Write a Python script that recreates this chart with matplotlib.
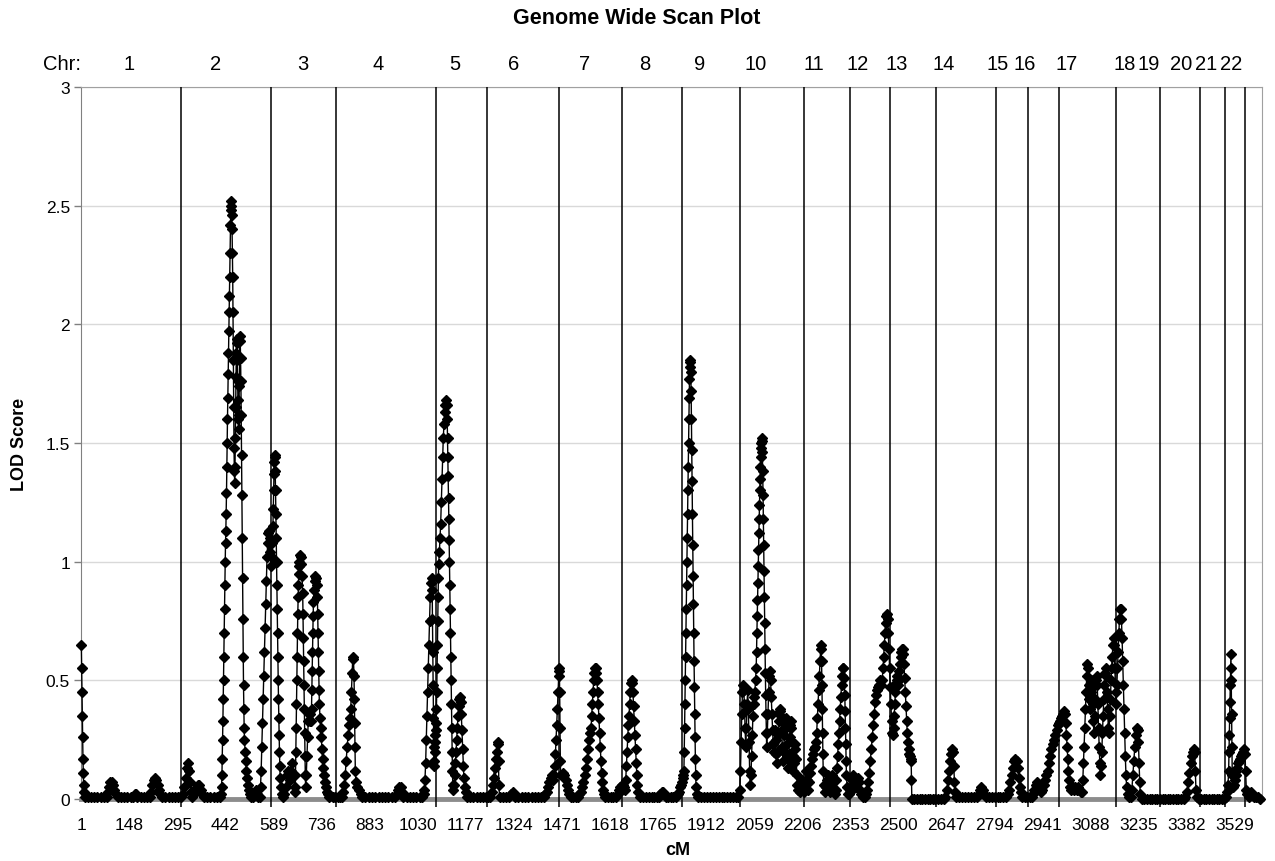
import matplotlib
matplotlib.use("Agg")
from matplotlib import pyplot as plt

plt.rcParams['font.family'] = ['Liberation Sans', 'DejaVu Sans']

# (cM, LOD) pairs, one list per chromosome
chr1 = [(1, .65), (2, .55), (3, .45), (4, .35), (5, .26), (6, .17), (7, .11), (8, .06), (9, .03), (11, .01),
        (20, .01), (30, .01), (40, .01), (50, .01), (60, .01), (70, .01), (78, .01), (82, .03), (86, .05),
        (90, .07), (94, .07), (98, .06), (102, .04), (106, .02), (112, .01), (122, .01), (132, .01), (142, .01),
        (152, .01), (160, .01), (164, .02), (168, .02), (172, .01), (182, .01), (192, .01), (202, .01), (210, .01),
        (214, .03), (218, .06), (222, .08), (226, .09), (230, .08), (234, .06), (238, .04), (242, .02), (248, .01),
        (258, .01), (268, .01), (278, .01), (288, .01), (298, .01)]
chr2 = [(306, .01), (312, .02), (316, .05), (320, .09), (324, .13), (327, .15), (330, .12), (333, .07), (336, .03),
        (340, .01), (346, .02), (350, .03), (354, .05), (358, .06), (362, .06), (366, .04), (370, .02), (376, .01),
        (386, .01), (396, .01), (406, .01), (416, .01), (424, .01), (428, .02), (430, .05), (431, .1), (432, .17),
        (433, .25), (434, .33), (435, .42), (436, .5), (437, .6), (438, .7), (439, .8), (440, .9), (441, 1.0),
        (442, 1.08), (443, 1.13), (444, 1.2), (445, 1.29), (446, 1.4), (447, 1.5), (448, 1.6), (449, 1.69),
        (450, 1.79), (451, 1.88), (452, 1.97), (453, 2.05), (454, 2.12), (455, 2.2), (456, 2.3), (457, 2.42),
        (458, 2.48), (459, 2.52), (460, 2.5), (461, 2.46), (462, 2.4), (463, 2.3), (464, 2.2), (465, 2.05),
        (466, 1.85), (467, 1.65), (468, 1.48), (469, 1.38), (470, 1.33), (471, 1.4), (472, 1.52), (473, 1.65),
        (474, 1.78), (475, 1.88), (476, 1.94), (477, 1.92), (478, 1.85), (479, 1.76), (480, 1.68), (481, 1.6),
        (482, 1.56), (483, 1.62), (484, 1.74), (485, 1.86), (486, 1.95), (487, 1.93), (488, 1.86), (489, 1.76),
        (490, 1.62), (491, 1.45), (492, 1.28), (493, 1.1), (494, .93), (495, .76), (496, .6), (497, .48),
        (498, .38), (499, .3), (500, .25), (502, .2), (504, .16), (506, .12), (508, .09), (510, .06), (513, .04),
        (516, .02), (520, .01), (526, .01), (532, .02), (536, .04), (539, .02), (542, .01), (546, .01), (549, .05),
        (551, .12), (553, .22), (555, .32), (557, .42), (559, .52), (561, .62), (563, .72), (565, .82), (567, .92),
        (569, 1.02), (571, 1.08), (573, 1.12), (575, 1.13), (577, 1.1), (579, 1.04), (581, .98)]
chr3 = [(583, 1.02), (585, 1.08), (587, 1.15), (588, 1.22), (589, 1.3), (590, 1.37), (591, 1.42), (592, 1.45),
        (593, 1.44), (594, 1.38), (595, 1.3), (596, 1.2), (597, 1.1), (598, 1.0), (599, .9), (600, .8), (601, .7),
        (602, .6), (603, .5), (604, .42), (605, .34), (606, .27), (607, .2), (608, .14), (609, .09), (611, .05),
        (614, .02), (618, .01), (622, .02), (626, .05), (630, .1), (634, .12), (638, .08), (642, .12), (646, .15),
        (650, .1), (653, .05), (655, .03), (656, .1), (657, .2), (658, .3), (659, .4), (660, .5), (661, .6),
        (662, .7), (663, .78), (664, .85), (665, .9), (666, .95), (667, .98), (668, 1.0), (670, 1.03), (672, 1.02),
        (674, .99), (676, .94), (678, .87), (679, .78), (680, .68), (681, .58), (682, .48), (683, .38), (684, .28),
        (685, .18), (686, .1), (687, .05), (689, .1), (691, .18), (693, .26), (695, .33), (697, .36), (699, .33),
        (701, .36), (703, .33), (705, .38), (706, .46), (707, .54), (708, .62), (709, .7), (710, .77), (711, .83),
        (713, .88), (715, .92), (717, .94), (719, .93), (721, .9), (723, .85), (724, .78), (725, .7), (726, .62),
        (727, .54), (728, .46), (729, .4), (731, .34), (733, .3), (735, .26), (737, .21), (739, .17), (741, .13),
        (743, .1), (745, .07), (748, .05), (751, .03), (755, .02), (760, .01), (770, .01), (778, .01)]
chr4 = [(786, .01), (792, .01), (798, .01), (802, .03), (805, .06), (808, .1), (811, .16), (814, .22), (817, .27),
        (820, .31), (823, .34), (825, .38), (827, .45), (829, .53), (831, .59), (833, .6), (835, .52), (836, .42),
        (837, .32), (838, .22), (839, .12), (841, .07), (845, .05), (850, .04), (855, .02), (860, .01), (870, .01),
        (880, .01), (890, .01), (900, .01), (910, .01), (920, .01), (930, .01), (940, .01), (950, .01), (960, .01),
        (966, .02), (970, .04), (974, .05), (978, .05), (982, .03), (986, .01), (996, .01), (1006, .01),
        (1016, .01), (1026, .01), (1036, .01), (1044, .01), (1048, .02), (1050, .04), (1052, .08), (1054, .15),
        (1056, .25), (1058, .35), (1060, .45), (1062, .55), (1064, .65), (1066, .75), (1068, .85), (1070, .91),
        (1072, .93), (1074, .88), (1075, .76), (1076, .62), (1077, .48), (1078, .34), (1079, .22), (1080, .14),
        (1081, .16), (1082, .2), (1083, .24), (1084, .27), (1085, .29)]
chr5 = [(1086, .32), (1087, .38), (1088, .45), (1089, .55), (1090, .65), (1091, .75), (1092, .85), (1093, .93),
        (1094, .99), (1096, 1.04), (1098, 1.1), (1100, 1.16), (1102, 1.25), (1104, 1.35), (1106, 1.44),
        (1108, 1.52), (1110, 1.58), (1112, 1.63), (1114, 1.66), (1116, 1.68), (1118, 1.66), (1120, 1.6),
        (1121, 1.52), (1122, 1.44), (1123, 1.36), (1124, 1.27), (1125, 1.18), (1126, 1.09), (1127, 1.0),
        (1128, .9), (1129, .8), (1130, .7), (1131, .6), (1132, .5), (1133, .4), (1134, .3), (1135, .2), (1136, .12),
        (1137, .06), (1139, .04), (1141, .06), (1143, .1), (1145, .15), (1147, .2), (1149, .25), (1151, .3),
        (1153, .35), (1155, .39), (1157, .42), (1159, .43), (1161, .41), (1163, .36), (1165, .29), (1167, .21),
        (1169, .14), (1171, .09), (1173, .05), (1176, .03), (1180, .01), (1190, .01), (1200, .01), (1210, .01),
        (1220, .01), (1230, .01), (1238, .01)]
chr6 = [(1246, .01), (1252, .01), (1256, .03), (1259, .06), (1262, .09), (1265, .13), (1268, .17), (1271, .2),
        (1274, .23), (1276, .24), (1277, .16), (1278, .06), (1280, .01), (1290, .01), (1300, .01), (1310, .01),
        (1316, .02), (1320, .03), (1324, .02), (1328, .01), (1338, .01), (1348, .01), (1358, .01), (1368, .01),
        (1378, .01), (1388, .01), (1398, .01), (1408, .01), (1416, .01), (1420, .02), (1424, .03), (1428, .05),
        (1432, .07), (1436, .09), (1440, .1), (1443, .08), (1446, .1), (1449, .14), (1451, .19), (1453, .25),
        (1455, .31), (1457, .38), (1459, .45), (1461, .52)]
chr7 = [(1462, .55), (1463, .54), (1464, .45), (1465, .3), (1466, .16), (1467, .1), (1470, .1), (1474, .11),
        (1478, .1), (1482, .08), (1486, .06), (1490, .04), (1494, .02), (1498, .01), (1506, .01), (1514, .01),
        (1520, .01), (1524, .02), (1528, .03), (1532, .05), (1536, .07), (1540, .1), (1544, .13), (1548, .17),
        (1551, .21), (1554, .25), (1557, .28), (1560, .3), (1562, .35), (1564, .4), (1566, .45), (1568, .5),
        (1570, .53), (1572, .55), (1574, .55), (1576, .53), (1578, .5), (1580, .45), (1582, .4), (1584, .34),
        (1586, .28), (1588, .22), (1590, .16), (1592, .11), (1594, .07), (1596, .04), (1599, .02), (1603, .01),
        (1612, .01), (1620, .01), (1628, .01), (1636, .01), (1642, .02), (1646, .04), (1650, .05)]
chr8 = [(1654, .06), (1658, .06), (1661, .05), (1664, .04), (1666, .08), (1668, .14), (1670, .2), (1672, .26),
        (1674, .31), (1676, .35), (1678, .4), (1680, .45), (1682, .49), (1684, .5), (1686, .49), (1688, .45),
        (1690, .39), (1692, .33), (1694, .27), (1696, .21), (1698, .15), (1700, .1), (1702, .06), (1705, .03),
        (1709, .01), (1718, .01), (1727, .01), (1736, .01), (1745, .01), (1754, .01), (1762, .01), (1768, .01),
        (1772, .02), (1776, .03), (1780, .03), (1784, .02), (1788, .01), (1796, .01), (1804, .01), (1812, .01),
        (1820, .01), (1826, .02), (1830, .03), (1833, .05), (1836, .06)]
chr9 = [(1838, .07), (1840, .09), (1842, .1), (1844, .12), (1845, .2), (1846, .3), (1847, .4), (1848, .5),
        (1849, .6), (1850, .7), (1851, .8), (1852, .9), (1853, 1.0), (1854, 1.1), (1855, 1.2), (1856, 1.3),
        (1857, 1.4), (1858, 1.5), (1859, 1.6), (1860, 1.69), (1861, 1.77), (1862, 1.82), (1863, 1.85),
        (1864, 1.84), (1865, 1.8), (1866, 1.72), (1867, 1.6), (1868, 1.47), (1869, 1.34), (1870, 1.2),
        (1871, 1.07), (1872, .94), (1873, .82), (1874, .7), (1875, .58), (1876, .47), (1877, .36), (1878, .26),
        (1879, .17), (1880, .1), (1881, .05), (1883, .02), (1887, .01), (1896, .01), (1905, .01), (1914, .01),
        (1923, .01), (1932, .01), (1941, .01), (1950, .01), (1959, .01), (1968, .01), (1977, .01), (1986, .01),
        (1995, .01), (2004, .01), (2010, .01)]
chr10 = [(2015, .04), (2017, .12), (2019, .24), (2021, .36), (2023, .45), (2025, .48), (2027, .46), (2029, .4),
         (2031, .3), (2033, .22), (2035, .3), (2037, .4), (2039, .46), (2041, .38), (2043, .24), (2045, .12),
         (2047, .06), (2049, .1), (2051, .18), (2053, .27), (2055, .35), (2057, .4), (2059, .43), (2061, .45),
         (2063, .5), (2065, .55), (2066, .62), (2067, .7), (2068, .77), (2069, .84), (2070, .91), (2071, .98),
         (2072, 1.05), (2073, 1.12), (2074, 1.18), (2075, 1.24), (2076, 1.3), (2077, 1.35), (2078, 1.4),
         (2079, 1.44), (2080, 1.48), (2081, 1.5), (2082, 1.52), (2083, 1.51), (2084, 1.46), (2085, 1.38),
         (2086, 1.28), (2087, 1.18), (2088, 1.07), (2089, .96), (2090, .85), (2091, .74), (2092, .63), (2093, .53),
         (2094, .44), (2095, .36), (2096, .28), (2097, .22), (2099, .28), (2101, .36), (2103, .45), (2105, .52),
         (2107, .54), (2109, .5), (2111, .43), (2113, .36), (2115, .29), (2117, .23), (2119, .2), (2121, .24),
         (2123, .29), (2125, .25), (2127, .19), (2129, .15), (2131, .2), (2133, .27), (2135, .33), (2137, .37),
         (2139, .38), (2141, .35), (2143, .29), (2145, .22), (2147, .16), (2149, .2), (2151, .27), (2153, .32),
         (2155, .34), (2157, .3), (2159, .23), (2161, .17), (2163, .13), (2165, .19), (2167, .26), (2169, .31),
         (2171, .33), (2173, .3), (2175, .24), (2177, .18), (2179, .12), (2181, .15), (2183, .21), (2185, .23),
         (2187, .17), (2189, .1), (2191, .06), (2194, .04), (2198, .03), (2202, .05), (2205, .08), (2208, .05)]
chr11 = [(2211, .03), (2214, .07), (2217, .12), (2220, .08), (2223, .04), (2226, .07), (2229, .11), (2232, .14),
         (2235, .17), (2238, .19), (2241, .21), (2244, .22), (2247, .24), (2250, .28), (2252, .34), (2254, .4),
         (2256, .46), (2258, .52), (2260, .58), (2262, .63), (2264, .65), (2265, .58), (2266, .48), (2267, .38),
         (2268, .28), (2269, .19), (2270, .12), (2272, .06), (2275, .03), (2278, .05), (2281, .08), (2284, .1),
         (2287, .07), (2290, .03), (2293, .06), (2296, .1), (2299, .08), (2302, .04), (2305, .02), (2308, .04),
         (2310, .08), (2312, .13), (2314, .18), (2316, .23), (2318, .28), (2320, .33), (2322, .38), (2324, .43),
         (2326, .48), (2328, .52), (2330, .55), (2332, .55), (2334, .51), (2336, .44), (2337, .37), (2338, .3),
         (2339, .23), (2340, .16), (2341, .1), (2343, .05), (2346, .02), (2350, .02)]
chr12 = [(2353, .03), (2356, .05), (2359, .08), (2362, .1), (2365, .09), (2368, .06), (2371, .05), (2374, .07),
         (2377, .09), (2380, .07), (2383, .04), (2387, .02), (2392, .01), (2398, .01), (2402, .02), (2405, .04),
         (2408, .07), (2411, .11), (2414, .16), (2417, .21), (2420, .26), (2423, .31), (2426, .36), (2429, .41),
         (2432, .44), (2435, .46), (2438, .47), (2441, .48), (2444, .5), (2447, .48), (2450, .5), (2453, .55),
         (2455, .6), (2457, .65), (2459, .7), (2461, .74), (2463, .77), (2465, .78), (2467, .76), (2469, .7),
         (2471, .63), (2473, .55)]
chr13 = [(2475, .47), (2477, .4), (2479, .33), (2481, .28), (2483, .27), (2485, .3), (2487, .35), (2489, .4),
         (2491, .45), (2493, .49), (2495, .52), (2497, .5), (2499, .48), (2501, .5), (2503, .54), (2505, .57),
         (2507, .6), (2509, .62), (2511, .63), (2513, .63), (2515, .61), (2517, .57), (2519, .51), (2521, .45),
         (2523, .39), (2525, .33), (2527, .28), (2529, .24), (2531, .21), (2533, .19), (2535, .18), (2537, .17),
         (2539, .16), (2540, .08), (2541, 0), (2549, 0), (2557, 0), (2565, 0), (2573, 0), (2581, 0), (2589, 0),
         (2597, 0), (2605, 0), (2612, 0)]
chr14 = [(2620, 0), (2630, 0), (2638, 0), (2644, .01), (2648, .04), (2652, .08), (2655, .12), (2658, .16),
         (2661, .19), (2664, .21), (2667, .2), (2669, .14), (2671, .07), (2673, .03), (2677, .01), (2686, .01),
         (2695, .01), (2704, .01), (2713, .01), (2722, .01), (2731, .01), (2740, .01), (2746, .02), (2750, .04),
         (2754, .05), (2758, .04), (2762, .02), (2768, .01), (2777, .01), (2786, .01), (2795, .01)]
chr15 = [(2804, .01), (2812, .01), (2820, .01), (2828, .01), (2834, .02), (2838, .04), (2842, .07), (2846, .1),
         (2850, .13), (2854, .16), (2858, .17), (2862, .16), (2865, .13), (2868, .09), (2871, .05), (2874, .03),
         (2878, .01), (2886, .01), (2894, .01)]
chr16 = [(2902, .01), (2908, .01), (2912, .02), (2916, .04), (2920, .06), (2924, .07), (2928, .06), (2932, .04),
         (2936, .03), (2940, .04), (2944, .06), (2948, .08), (2952, .1), (2956, .12), (2960, .15), (2964, .18),
         (2968, .21), (2972, .23), (2976, .25), (2980, .27), (2984, .29), (2988, .31)]
chr17 = [(2992, .32), (2995, .33), (2998, .34), (3001, .35), (3004, .36), (3007, .37), (3010, .36), (3012, .32),
         (3014, .27), (3016, .22), (3018, .17), (3020, .12), (3022, .08), (3025, .05), (3029, .04), (3033, .05),
         (3037, .04), (3041, .05), (3045, .04), (3049, .05), (3053, .04), (3057, .03), (3061, .03), (3064, .08),
         (3066, .15), (3068, .22), (3070, .3), (3072, .38), (3074, .45), (3076, .52), (3078, .57), (3080, .55),
         (3082, .48), (3084, .42), (3086, .38), (3088, .45), (3090, .5), (3092, .47), (3094, .4), (3096, .33),
         (3098, .28), (3100, .35), (3102, .42), (3104, .5), (3106, .52), (3108, .48), (3110, .4), (3112, .3),
         (3114, .22), (3116, .15), (3118, .1), (3120, .14), (3122, .2), (3124, .28), (3126, .35), (3128, .42),
         (3130, .48), (3132, .53), (3134, .55), (3136, .52), (3138, .45), (3140, .38), (3142, .3), (3144, .28),
         (3146, .35), (3148, .42), (3150, .5), (3152, .55), (3154, .6), (3156, .65), (3158, .68), (3160, .65),
         (3162, .55), (3164, .45)]
chr18 = [(3166, .4), (3168, .48), (3170, .55), (3172, .62), (3174, .7), (3176, .76), (3178, .8), (3180, .8),
         (3182, .76), (3184, .68), (3186, .58), (3188, .48), (3190, .38), (3192, .28), (3194, .18), (3196, .1),
         (3198, .05), (3201, .02), (3205, .01), (3210, .01), (3214, .04), (3217, .1), (3220, .16), (3223, .22),
         (3226, .27), (3229, .3), (3232, .29), (3234, .24), (3236, .15), (3238, .07), (3240, .02), (3244, 0),
         (3252, 0), (3260, 0), (3268, 0), (3276, 0), (3284, 0), (3292, 0)]
chr19 = [(3300, 0), (3308, 0), (3316, 0), (3324, 0), (3332, 0), (3340, 0), (3348, 0), (3356, 0), (3364, 0),
         (3372, 0), (3378, .01), (3382, .03), (3386, .07), (3390, .11), (3394, .15), (3398, .18), (3401, .2),
         (3404, .21), (3406, .2), (3408, .12), (3410, .04), (3413, .01), (3418, 0)]
chr20 = [(3426, 0), (3434, 0), (3442, 0), (3450, 0), (3458, 0), (3466, 0), (3474, 0), (3482, 0), (3490, 0),
         (3496, 0)]
chr21 = [(3502, .01), (3506, .03), (3508, .06), (3510, .12), (3511, .2), (3512, .27), (3513, .34), (3514, .41),
         (3515, .48), (3516, .55), (3517, .61), (3518, .5), (3519, .36), (3520, .22), (3521, .1), (3522, .05),
         (3525, .06), (3528, .08), (3531, .1), (3534, .12), (3537, .13), (3540, .15), (3543, .16), (3546, .17),
         (3549, .18), (3552, .19), (3555, .2), (3558, .21), (3560, .19)]
chr22 = [(3562, .12), (3564, .04), (3567, .02), (3571, .01), (3577, .03), (3582, .02), (3588, .01), (3594, .01),
         (3600, .01), (3606, 0)]

scan = [chr1, chr2, chr3, chr4, chr5, chr6, chr7, chr8, chr9, chr10, chr11,
        chr12, chr13, chr14, chr15, chr16, chr17, chr18, chr19, chr20, chr21, chr22]

# chromosome divider lines (cM)
boundaries = [306, 581, 780, 1086, 1242, 1462, 1654, 1838, 2015, 2211, 2352,
              2474, 2615, 2798, 2896, 2991, 3165, 3300, 3422, 3498, 3561]
chr_names = ["1", "2", "3", "4", "5", "6", "7", "8", "9", "10", "11",
             "12", "13", "14", "15", "16", "17", "18", "19", "20", "21", "22"]
chr_label_cm = [147, 413, 679, 908, 1144, 1324, 1541, 1725, 1893, 2064, 2242,
                2376, 2495, 2639, 2804, 2887, 3015, 3193, 3266, 3364, 3440, 3517]
tick_cm = [1, 148, 295, 442, 589, 736, 883, 1030, 1177, 1324, 1471, 1618, 1765,
           1912, 2059, 2206, 2353, 2500, 2647, 2794, 2941, 3088, 3235, 3382, 3529]
lod_ticks = [0, 0.5, 1, 1.5, 2, 2.5, 3]
lod_labels = ["0", "0.5", "1", "1.5", "2", "2.5", "3"]

cm = [p[0] for c in scan for p in c]
lod = [p[1] for c in scan for p in c]

fig = plt.figure(figsize=(12.75, 8.62), dpi=100)
ax = fig.add_axes([81 / 1275, 62 / 862, 1181 / 1275, 712 / 862])

ax.plot(cm, lod, color="black", lw=1.0, marker="D", ms=5.2,
        mfc="black", mec="black", zorder=4, clip_on=False)
ax.vlines(boundaries, -0.034, 3, colors="black", lw=1.1, zorder=3, clip_on=False)

ax.set_xlim(0, 3612)
ax.set_ylim(0, 3)
ax.set_xticks(tick_cm)
ax.set_xticklabels([str(t) for t in tick_cm])
ax.set_yticks(lod_ticks)
ax.set_yticklabels(lod_labels)
ax.tick_params(axis="x", length=0, pad=13, labelsize=12.5)
ax.tick_params(axis="y", length=5, width=1, color="#808080", pad=3, labelsize=12.5)
ax.yaxis.grid(True, color="#d9d9d9", lw=1)
ax.set_axisbelow(True)

ax.spines["bottom"].set_color("#8c8c8c")
ax.spines["bottom"].set_linewidth(3.5)
ax.spines["left"].set_color("#808080")
ax.spines["top"].set_color("#a0a0a0")
ax.spines["right"].set_color("#a0a0a0")

ax.text(-58, 3.1, "Chr:", fontsize=14.5, ha="center", va="center", clip_on=False)
for name, x in zip(chr_names, chr_label_cm):
    ax.text(x, 3.1, name, fontsize=14.5, ha="center", va="center", clip_on=False)

fig.text(637 / 1275, 1 - 18 / 862, "Genome Wide Scan Plot", fontsize=15.5,
         fontweight="bold", ha="center", va="center")
fig.text(20 / 1275, 1 - 444 / 862, "LOD Score", fontsize=13, fontweight="bold",
         rotation=90, ha="center", va="center")
fig.text(678 / 1275, 1 - 851 / 862, "cM", fontsize=13, fontweight="bold",
         ha="center", va="center")

fig.savefig("out.png", dpi=100)
